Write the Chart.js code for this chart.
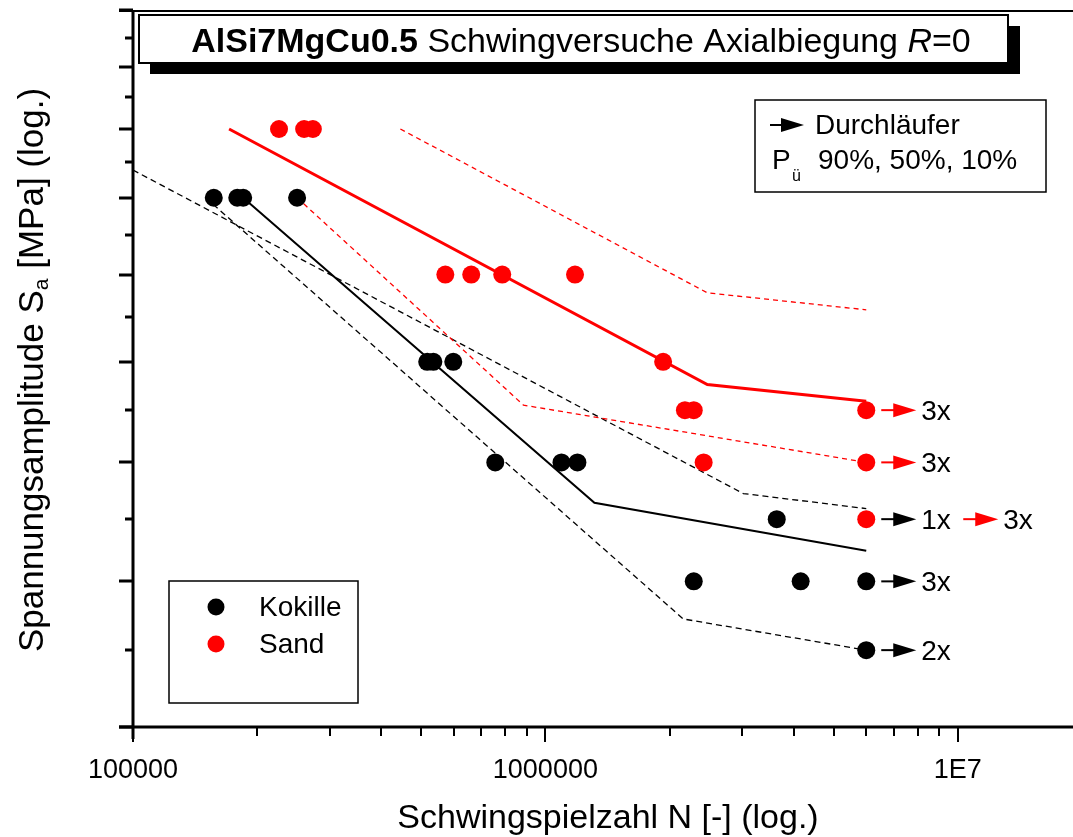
<!DOCTYPE html>
<html>
<head>
<meta charset="utf-8">
<script src="https://cdn.jsdelivr.net/npm/chart.js@4.4.1/dist/chart.umd.min.js"></script>
<style>
  html, body { margin: 0; padding: 0; background: #fff; }
  canvas { display: block; }
</style>
</head>
<body>
<canvas id="chart" width="1073" height="837"></canvas>
<script>
const FONT = "'Liberation Sans', Arial, sans-serif";

// test points (N, S_a in MPa)
const kokilleN = [157000, 179000, 185000, 250000, 517000, 535000, 598000, 756000, 1094000, 1196000, 3640000, 2290000, 4160000, 6000000, 6000000];
const kokilleS = [90, 90, 90, 90, 70, 70, 70, 60, 60, 60, 55, 50, 50, 50, 45];
const sandN = [226000, 260000, 273000, 572000, 661000, 786000, 1180000, 1930000, 2180000, 2290000, 2420000, 6000000, 6000000, 6000000];
const sandS = [100, 100, 100, 80, 80, 80, 80, 70, 65, 65, 60, 65, 60, 55];

// Woehler lines, P_ue 50% solid, 10% / 90% dashed
const sand50N = [171000, 2470000, 6000000];
const sand50S = [100, 67.6, 65.9];
const sand10N = [445000, 2470000, 6000000];
const sand10S = [100, 77.8, 75.8];
const sand90N = [250000, 885000, 6000000];
const sand90S = [90, 65.5, 60];
const kok50N = [185000, 1315000, 6000000];
const kok50S = [90, 56.4, 52.4];
const kok10N = [100000, 3020000, 6000000];
const kok10S = [93.9, 57.2, 55.9];
const kok90N = [150000, 2160000, 6000000];
const kok90S = [90, 47.2, 45];

// Durchlaeufer (run-outs) at N = 6e6
const runoutN = 6000000;
const runoutS = [65, 60, 55, 55, 50, 45];
const runoutCount = ['3x', '3x', '1x', '3x', '3x', '2x'];
const runoutColor = ['#ff0000', '#ff0000', '#000000', '#ff0000', '#000000', '#000000'];
const runoutSlot = [0, 0, 0, 1, 0, 0];

// axes
const xMin = 100000, xMax = 18100000;
const yMin = 40, yMax = 120;
const xTicks = [100000, 200000, 300000, 400000, 500000, 600000, 700000, 800000, 900000,
  1000000, 2000000, 3000000, 4000000, 5000000, 6000000, 7000000, 8000000, 9000000, 10000000];
const xTickLabels = { 100000: '100000', 1000000: '1000000', 10000000: '1E7' };
const yMajor = [40, 50, 60, 70, 80, 90, 100, 110, 120];
const yMinor = [45, 55, 65, 75, 85, 95, 105, 115];

const pts = (xs, ys) => xs.map((v, i) => ({ x: v, y: ys[i] }));

function lineSet(xs, ys, color, width, dash) {
  return {
    data: pts(xs, ys),
    showLine: true,
    borderColor: color,
    borderWidth: width,
    borderDash: dash,
    pointRadius: 0,
    fill: false,
    order: 2,
  };
}

function arrow(ctx, x0, x1, py, color) {
  ctx.strokeStyle = color;
  ctx.fillStyle = color;
  ctx.lineWidth = 2;
  ctx.beginPath();
  ctx.moveTo(x0, py);
  ctx.lineTo(x1 - 18, py);
  ctx.stroke();
  ctx.beginPath();
  ctx.moveTo(x1, py);
  ctx.lineTo(x1 - 23, py - 7);
  ctx.lineTo(x1 - 23, py + 7);
  ctx.closePath();
  ctx.fill();
}

const decor = {
  id: 'decor',
  afterDraw(chart) {
    const { ctx, chartArea: a, scales: { x, y } } = chart;
    ctx.save();
    ctx.strokeStyle = '#000';
    ctx.fillStyle = '#000';

    // frame + axes
    ctx.lineWidth = 2;
    ctx.beginPath();
    ctx.moveTo(a.left - 14, a.top + 1);
    ctx.lineTo(chart.width, a.top + 1);
    ctx.stroke();
    ctx.lineWidth = 3;
    ctx.beginPath();
    ctx.moveTo(a.left, a.top);
    ctx.lineTo(a.left, a.bottom + 12);
    ctx.moveTo(a.left - 14, a.bottom);
    ctx.lineTo(chart.width, a.bottom);
    ctx.stroke();

    // y ticks (outside, left)
    ctx.lineWidth = 3;
    ctx.beginPath();
    yMajor.forEach(v => {
      const py = Math.round(y.getPixelForValue(v));
      ctx.moveTo(a.left - 14, py); ctx.lineTo(a.left, py);
    });
    yMinor.forEach(v => {
      const py = Math.round(y.getPixelForValue(v));
      ctx.moveTo(a.left - 8, py); ctx.lineTo(a.left, py);
    });
    ctx.stroke();

    // x ticks (outside, below)
    ctx.lineWidth = 2;
    ctx.beginPath();
    xTicks.forEach(v => {
      const px = Math.round(x.getPixelForValue(v));
      const len = xTickLabels[v] ? 15 : 9;
      ctx.moveTo(px, a.bottom); ctx.lineTo(px, a.bottom + len);
    });
    ctx.stroke();

    // run-out arrows
    const px0 = x.getPixelForValue(runoutN);
    runoutS.forEach((s, i) => {
      const py = y.getPixelForValue(s);
      const off = runoutSlot[i] === 0 ? 15 : 97;
      arrow(ctx, px0 + off, px0 + off + 35, py, runoutColor[i]);
      ctx.fillStyle = '#000';
      ctx.font = `28px ${FONT}`;
      ctx.textBaseline = 'middle';
      ctx.textAlign = 'left';
      ctx.fillText(runoutCount[i], px0 + off + 40, py + 2);
    });

    // title box with shadow
    ctx.fillStyle = '#000';
    ctx.fillRect(150, 26, 870, 48);
    ctx.fillStyle = '#fff';
    ctx.fillRect(139, 15, 869, 48);
    ctx.lineWidth = 2;
    ctx.strokeStyle = '#000';
    ctx.strokeRect(139, 15, 869, 48);
    const parts = [
      [`bold 34px ${FONT}`, 'AlSi7MgCu0.5'],
      [`34px ${FONT}`, ' Schwingversuche Axialbiegung '],
      [`italic 34px ${FONT}`, 'R'],
      [`34px ${FONT}`, '=0'],
    ];
    let total = 0;
    parts.forEach(p => { ctx.font = p[0]; total += ctx.measureText(p[1]).width; });
    let tx = 581 - total / 2;
    ctx.fillStyle = '#000';
    ctx.textBaseline = 'alphabetic';
    ctx.textAlign = 'left';
    parts.forEach(p => {
      ctx.font = p[0];
      ctx.fillText(p[1], tx, 52);
      tx += ctx.measureText(p[1]).width;
    });

    // legend top right
    ctx.lineWidth = 1.5;
    ctx.strokeRect(755, 100, 291, 92);
    arrow(ctx, 770, 804, 125, '#000');
    ctx.fillStyle = '#000';
    ctx.font = `28px ${FONT}`;
    ctx.textBaseline = 'middle';
    ctx.fillText('Durchläufer', 815, 126);
    ctx.fillText('P', 772, 161);
    ctx.fillText('90%, 50%, 10%', 818, 161);
    ctx.font = `16px ${FONT}`;
    ctx.fillText('ü', 792, 177);

    // legend bottom left
    ctx.lineWidth = 1.5;
    ctx.strokeStyle = '#000';
    ctx.strokeRect(169, 581, 189, 122);
    const legendItems = [['Kokille', chart.data.datasets[0].backgroundColor, 607],
                         ['Sand', chart.data.datasets[1].backgroundColor, 644]];
    legendItems.forEach(([label, color, ly]) => {
      ctx.fillStyle = color;
      ctx.beginPath();
      ctx.arc(216, ly, 8.5, 0, Math.PI * 2);
      ctx.fill();
      ctx.fillStyle = '#000';
      ctx.font = `28px ${FONT}`;
      ctx.fillText(label, 259, ly + 1);
    });

    // axis titles
    ctx.font = `34px ${FONT}`;
    ctx.textAlign = 'center';
    ctx.textBaseline = 'middle';
    ctx.fillText('Schwingspielzahl N [-] (log.)', 608, 819);

    ctx.translate(33, 370);
    ctx.rotate(-Math.PI / 2);
    const yParts = [
      [`35px ${FONT}`, 'Spannungsamplitude S', 0],
      [`21px ${FONT}`, 'a', 9],
      [`35px ${FONT}`, ' [MPa] (log.)', 0],
    ];
    let yt = 0;
    yParts.forEach(p => { ctx.font = p[0]; yt += ctx.measureText(p[1]).width; });
    let yx = -yt / 2;
    ctx.textAlign = 'left';
    yParts.forEach(p => {
      ctx.font = p[0];
      ctx.fillText(p[1], yx, p[2]);
      yx += ctx.measureText(p[1]).width;
    });
    ctx.restore();
  },
};

new Chart(document.getElementById('chart'), {
  type: 'scatter',
  data: {
    datasets: [
      { label: 'Kokille', data: pts(kokilleN, kokilleS), backgroundColor: '#000000', borderWidth: 0, pointRadius: 9, order: 1 },
      { label: 'Sand', data: pts(sandN, sandS), backgroundColor: '#ff0000', borderWidth: 0, pointRadius: 9, order: 0 },
      lineSet(sand50N, sand50S, '#ff0000', 3, []),
      lineSet(sand10N, sand10S, '#ff0000', 1.3, [5, 4]),
      lineSet(sand90N, sand90S, '#ff0000', 1.3, [5, 4]),
      lineSet(kok50N, kok50S, '#000000', 2, []),
      lineSet(kok10N, kok10S, '#000000', 1.3, [6, 4]),
      lineSet(kok90N, kok90S, '#000000', 1.3, [6, 4]),
    ],
  },
  options: {
    responsive: false,
    animation: false,
    devicePixelRatio: 1,
    layout: { padding: { top: 10, right: 3, left: 0, bottom: 0 } },
    plugins: { legend: { display: false }, tooltip: { enabled: false } },
    scales: {
      x: {
        type: 'logarithmic',
        min: xMin,
        max: xMax,
        grid: { display: false },
        border: { display: false },
        afterBuildTicks: (s) => { s.ticks = xTicks.map(v => ({ value: v })); },
        afterFit: (s) => { s.height = 110; },
        ticks: {
          autoSkip: false,
          maxRotation: 0,
          padding: 19,
          color: '#000',
          font: { family: FONT, size: 27 },
          callback: (v) => xTickLabels[v] || '',
        },
      },
      y: {
        type: 'logarithmic',
        min: yMin,
        max: yMax,
        grid: { display: false },
        border: { display: false },
        ticks: { display: false },
        afterFit: (s) => { s.width = 133; },
      },
    },
  },
  plugins: [decor],
});
</script>
</body>
</html>
